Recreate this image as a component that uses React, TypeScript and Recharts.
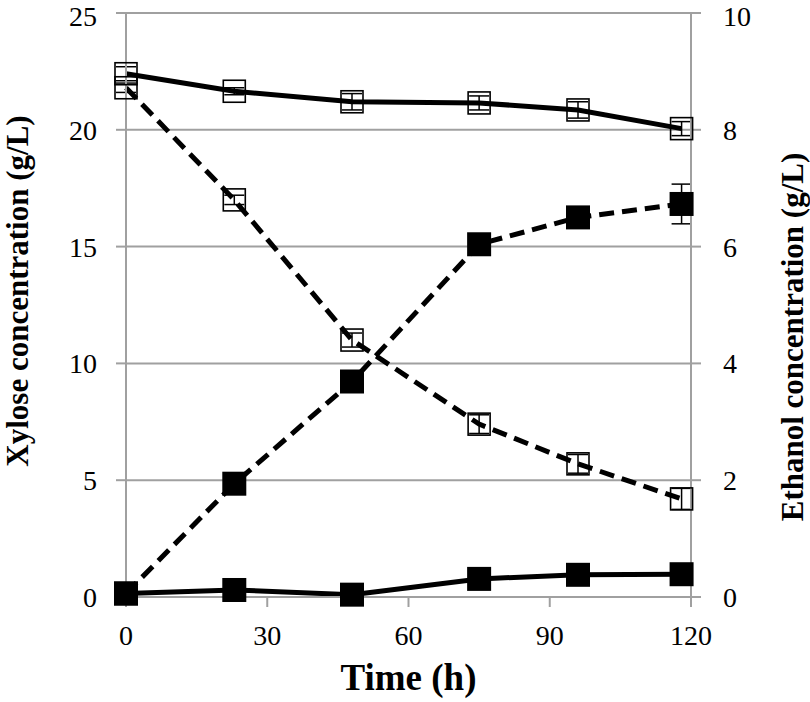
import React from 'react'
import {
  ComposedChart,
  Line,
  XAxis,
  YAxis,
  CartesianGrid,
  ErrorBar
} from 'recharts'

// sampling times (h)
const times = [0, 23, 48, 75, 96, 118]

// xylose (g/L), left axis
const xyloseSolid = [22.4, 21.65, 21.2, 21.15, 20.85, 20.05]
const xyloseSolidErr = [0.3, 0.15, 0.35, 0.3, 0.35, 0.3]
const xyloseDashed = [21.8, 17.0, 11.0, 7.4, 5.7, 4.2]
const xyloseDashedErr = [0.2, 0.2, 0.3, 0.4, 0.4, 0.45]

// ethanol (g/L), right axis
const ethanolSolid = [0.06, 0.12, 0.04, 0.31, 0.38, 0.39]
const ethanolSolidErr = [0.02, 0.02, 0.02, 0.02, 0.02, 0.02]
const ethanolDashed = [0.06, 1.94, 3.69, 6.04, 6.5, 6.73]
const ethanolDashedErr = [0.02, 0.03, 0.05, 0.05, 0.05, 0.34]

const xTicks = [0, 30, 60, 90, 120]
const leftTicks = [0, 5, 10, 15, 20, 25]
const rightTicks = [0, 2, 4, 6, 8, 10]

const data = times.map((t, i) => ({
  t,
  xs: xyloseSolid[i],
  xsErr: xyloseSolidErr[i],
  xd: xyloseDashed[i],
  xdErr: xyloseDashedErr[i],
  es: ethanolSolid[i],
  esErr: ethanolSolidErr[i],
  ed: ethanolDashed[i],
  edErr: ethanolDashedErr[i]
}))

const FONT = '"Liberation Serif", "Times New Roman", serif'
const GRID = '#a0a0a0'

const OpenSquare = (props: any) => {
  const { cx, cy } = props
  if (cx == null || cy == null) return null
  return <rect x={cx - 11} y={cy - 11} width={22} height={22} fill="none" stroke="#000" strokeWidth={1.6} />
}

const FilledSquare = (props: any) => {
  const { cx, cy } = props
  if (cx == null || cy == null) return null
  return <rect x={cx - 12} y={cy - 12} width={24} height={24} fill="#000" />
}

const tickStyle = { fontFamily: FONT, fontSize: 28, fill: '#000' }

const App: React.FC = () => {
  return (
    <div style={{ position: 'absolute', left: 0, top: 0, width: 810, height: 702, background: '#fff' }}>
      <ComposedChart width={810} height={702} data={data} margin={{ top: 13, right: 0, left: 0, bottom: 0 }}>
        <CartesianGrid vertical={false} stroke={GRID} strokeWidth={2} yAxisId="left" />
        <XAxis
          dataKey="t"
          type="number"
          domain={[0, 120]}
          ticks={xTicks}
          height={105}
          tickSize={10}
          tickMargin={18}
          stroke={GRID}
          strokeWidth={2}
          tick={tickStyle}
          label={(p: any) => {
            const vb = p.viewBox
            return (
              <text x={vb.x + vb.width / 2} y={vb.y + 93} textAnchor="middle" fontFamily={FONT} fontSize={37} fontWeight="bold" fill="#000">
                Time (h)
              </text>
            )
          }}
        />
        <YAxis
          yAxisId="left"
          orientation="left"
          domain={[0, 25]}
          ticks={leftTicks}
          width={126}
          tickSize={10}
          tickMargin={19}
          stroke={GRID}
          strokeWidth={2}
          tick={tickStyle}
          label={() => {
            const cy = 291
            return (
              <text x={28} y={cy} transform={`rotate(-90, 28, ${cy})`} textAnchor="middle" fontFamily={FONT} fontSize={31} fontWeight="bold" fill="#000">
                Xylose concentration (g/L)
              </text>
            )
          }}
        />
        <YAxis
          yAxisId="right"
          orientation="right"
          domain={[0, 10]}
          ticks={rightTicks}
          width={119}
          tickSize={10}
          tickMargin={22}
          stroke={GRID}
          strokeWidth={2}
          tick={tickStyle}
          label={() => {
            const cy = 337
            return (
              <text x={803} y={cy} transform={`rotate(-90, 803, ${cy})`} textAnchor="middle" fontFamily={FONT} fontSize={31} fontWeight="bold" fill="#000">
                Ethanol concentration (g/L)
              </text>
            )
          }}
        />
        <Line yAxisId="left" dataKey="xs" stroke="#000" strokeWidth={5} dot={<OpenSquare />} activeDot={false} isAnimationActive={false}>
          <ErrorBar dataKey="xsErr" direction="y" width={10} stroke="#000" strokeWidth={1.5} />
        </Line>
        <Line yAxisId="left" dataKey="xd" stroke="#000" strokeWidth={5} strokeDasharray="15 8" dot={<OpenSquare />} activeDot={false} isAnimationActive={false}>
          <ErrorBar dataKey="xdErr" direction="y" width={10} stroke="#000" strokeWidth={1.5} />
        </Line>
        <Line yAxisId="right" dataKey="ed" stroke="#000" strokeWidth={5} strokeDasharray="15 8" dot={<FilledSquare />} activeDot={false} isAnimationActive={false}>
          <ErrorBar dataKey="edErr" direction="y" width={10} stroke="#000" strokeWidth={1.5} />
        </Line>
        <Line yAxisId="right" dataKey="es" stroke="#000" strokeWidth={5} dot={<FilledSquare />} activeDot={false} isAnimationActive={false}>
          <ErrorBar dataKey="esErr" direction="y" width={10} stroke="#000" strokeWidth={1.5} />
        </Line>
      </ComposedChart>
    </div>
  )
}

export default App
